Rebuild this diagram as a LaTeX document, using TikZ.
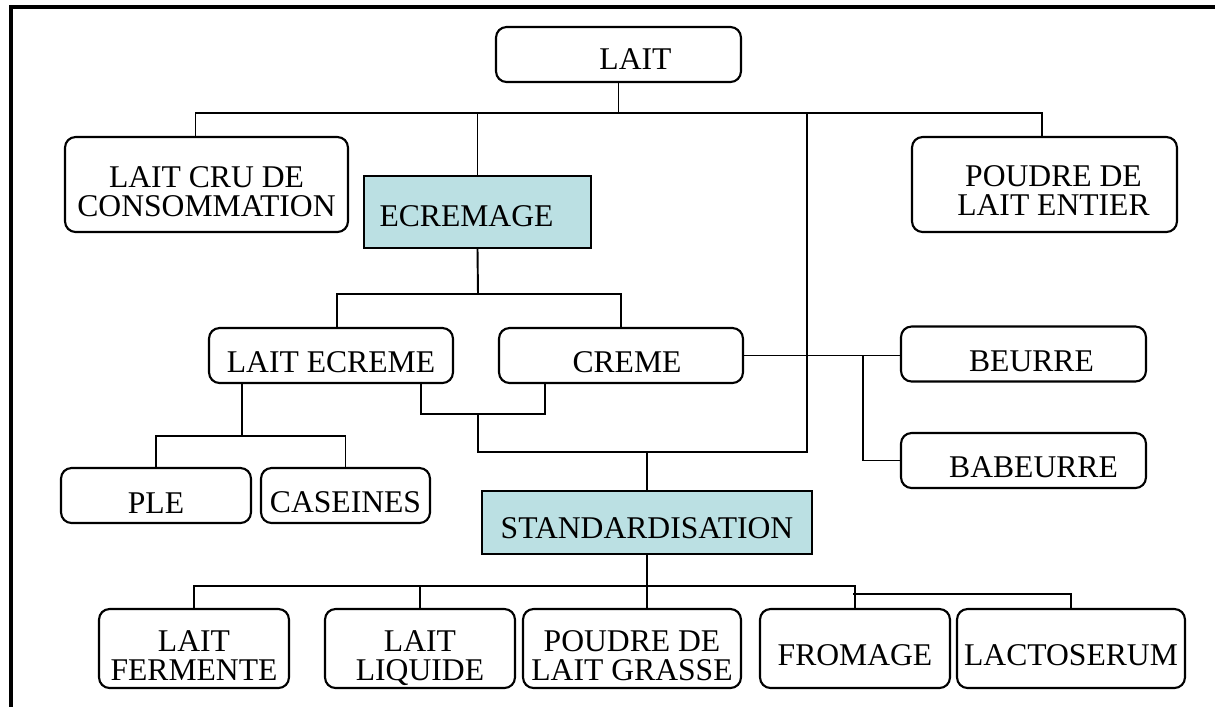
\documentclass[tikz,border=0pt]{standalone}
\usepackage{fontspec}
\setmainfont{Liberation Serif}
\definecolor{bleuclair}{RGB}{187,224,227}
\tikzset{
  boite/.style={draw,rounded corners=6pt,line width=1.2pt,align=center,inner sep=0pt,
    font=\fontsize{18}{16.3}\selectfont,text height=20pt},
  deux/.style={text height=#1,text depth=0pt},
  deux/.default=36.5pt,
  etape/.style={boite,rounded corners=0pt,fill=bleuclair},
  lien/.style={line width=1.1pt}
}
\begin{document}
\begin{tikzpicture}[x=0.02cm,y=-0.02cm]
\useasboundingbox (0,0) rectangle (1215,707);
\draw[line width=2.2pt](11,707)--(11,7)--(1215,7);

\node[boite,minimum width=4.9cm,minimum height=1.1cm,text height=17.5pt](lait) at (618.5,54.5){\hspace*{0.68cm}LAIT};
\node[boite,deux,minimum width=5.66cm,minimum height=1.9cm](laitcru) at (206.5,184.5){LAIT CRU DE\\CONSOMMATION};
\node[etape,minimum width=4.54cm,minimum height=1.44cm,text height=16.5pt](ecremage) at (477.5,212){ECREMAGE\hspace*{0.44cm}};
\node[boite,deux=35.3pt,minimum width=5.3cm,minimum height=1.9cm](poudreentier) at (1044.5,184.5){\hspace*{0.36cm}POUDRE DE\\\hspace*{0.36cm}LAIT ENTIER};
\node[boite,minimum width=4.88cm,minimum height=1.1cm](laitecreme) at (331,355.5){LAIT ECREME};
\node[boite,minimum width=4.88cm,minimum height=1.1cm](creme) at (621,355.5){\hspace*{0.24cm}CREME};
\node[boite,minimum width=4.9cm,minimum height=1.1cm](beurre) at (1023.5,354){\hspace*{0.32cm}BEURRE};
\node[boite,minimum width=4.9cm,minimum height=1.1cm,text height=19pt](babeurre) at (1023.5,460.5){\hspace*{0.4cm}BABEURRE};
\node[boite,minimum width=3.8cm,minimum height=1.1cm](ple) at (156,495.5){PLE};
\node[boite,minimum width=3.38cm,minimum height=1.1cm](caseines) at (345.5,495.5){CASEINES};
\node[etape,minimum width=6.6cm,minimum height=1.26cm,text height=18.5pt](standard) at (647,522.5){STANDARDISATION};
\node[boite,deux,minimum width=3.8cm,minimum height=1.58cm](fermente) at (194,648.5){LAIT\\FERMENTE};
\node[boite,deux,minimum width=3.8cm,minimum height=1.58cm](liquide) at (420,648.5){LAIT\\LIQUIDE};
\node[boite,deux,minimum width=4.36cm,minimum height=1.58cm](poudregrasse) at (632,648.5){POUDRE DE\\LAIT GRASSE};
\node[boite,minimum width=3.8cm,minimum height=1.58cm](fromage) at (855,648.5){FROMAGE};
\node[boite,minimum width=4.56cm,minimum height=1.58cm](lactoserum) at (1071,648.5){LACTOSERUM};

\coordinate(b1) at (619,113);
\coordinate(b2) at (478,294);
\coordinate(b3) at (807,452);
\coordinate(b4) at (647,586);
\coordinate(b5) at (242,436);
\coordinate(b6) at (478,414);
\coordinate(b7) at (863,355.5);

\draw[lien](lait)--(lait.south|-b1);
\draw[lien]([xshift=-0.22cm]laitcru.north)|-(b1)-|([xshift=-0.05cm]poudreentier.north);
\draw[lien](ecremage.north)--(ecremage.north|-b1);
\draw[lien](b3|-b1)--(b3)-|(b6);
\draw[lien](ecremage.south)--(b2);
\draw[lien]([xshift=0.12cm]laitecreme.north)|-(b2)-|(creme.north);
\draw[lien](creme.east)--(creme.east-|beurre.west);
\draw[lien](b7)|-(babeurre.west);
\draw[lien]([xshift=1.8cm]laitecreme.south)|-(b6)-|([xshift=-1.52cm]creme.south);
\draw[lien](standard.north|-b3)--(standard.north);
\draw[lien]([xshift=-1.78cm]laitecreme.south)|-(b5);
\draw[lien](ple.north)|-(b5)-|(caseines.north);
\draw[lien](standard.south)--(b4);
\draw[lien](fermente.north)|-(b4)-|(fromage.north);
\draw[lien](liquide.north)--(liquide.north|-b4);
\draw[lien](poudregrasse.north-|b4)--(b4);
\draw[lien](853,594)-|(lactoserum.north);
\end{tikzpicture}
\end{document}
